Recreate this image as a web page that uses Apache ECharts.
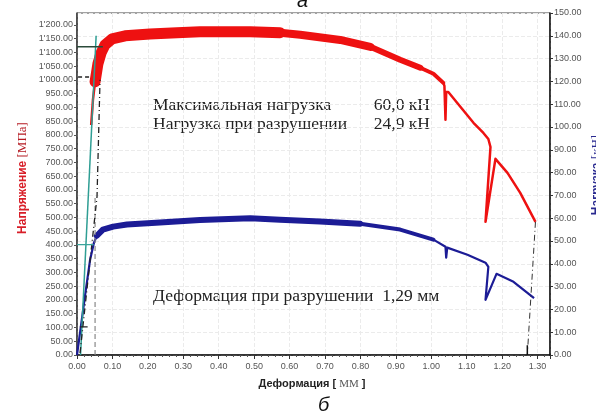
<!DOCTYPE html>
<html><head><meta charset="utf-8">
<script src="https://cdn.jsdelivr.net/npm/echarts@6/dist/echarts.min.js"></script>
<style>html,body{margin:0;padding:0;background:#fff}#c{width:596px;height:414px}</style>
</head><body><div id="c"></div><script>
// Tensile test record: stress (left axis, MPa) and load (right axis, kN) vs elongation (mm)
const stressCurve = [[0.040,836],[0.045,927],[0.051,993],[0.059,1058],[0.068,1098],[0.079,1127],[0.099,1149],[0.136,1160],[0.206,1167],[0.282,1171],[0.347,1175],[0.489,1175],[0.573,1171],[0.63,1164],[0.743,1145],[0.828,1120],[0.912,1073],[0.969,1044],[1.006,1022],[1.034,989],[1.037,978],[1.040,855],[1.042,956],[1.048,956],[1.082,902],[1.119,844],[1.147,807],[1.161,785],[1.167,756],[1.153,484],[1.181,713],[1.215,662],[1.251,589],[1.294,484]];
const loadCurve = [[0,0],[0.0085,9.7],[0.023,26.4],[0.037,41.8],[0.048,49.3],[0.056,52.3],[0.073,55.0],[0.102,56.3],[0.141,57.2],[0.234,58.1],[0.347,59.2],[0.489,60.0],[0.573,59.3],[0.686,58.6],[0.799,57.6],[0.912,55.0],[1.006,50.6],[1.040,47.5],[1.042,42.7],[1.045,47.1],[1.102,44.0],[1.153,40.5],[1.161,38.7],[1.153,24.2],[1.184,35.6],[1.232,32.1],[1.29,24.9]];

// Construction lines (stress axis)
const modulusLine = [[0.010,0],[0.054,1160]];
const yieldLevel = [[0,1120],[0.073,1120]];
const proportionalLevel = [[0.003,1010],[0.035,1010]];
const offsetLine = [[0.0085,7],[0.0565,575],[0.065,1000]];
const offsetMark = [[0.051,0],[0.051,580]];
const unloadLine = [[1.294,484],[1.271,0]];
const breakTick = [[1.271,0],[1.271,35]];
// Construction lines (load axis)
const loadYieldLevel = [[0,48.4],[0.047,48.4]];
const loadLowLevel = [[0.008,12.3],[0.03,12.3]];

const xMax = 1.335, stressMax = 1243, loadMax = 150;

const chart = echarts.init(document.getElementById('c'), null, {renderer:'canvas'});
const labelFont = {fontSize:9, color:'#555', fontFamily:'"Liberation Sans", Arial, sans-serif'};
const fmtStress = v => v > 1200 ? '' : (v >= 1000 ? "1'" + (v-1000).toFixed(2).padStart(6,'0') : v.toFixed(2));
const RED = '#ee1111', BLUE = '#1c1c96';

function refLine(data, axis, color, width, type, z){
  return {type:'line', data, yAxisIndex:axis, symbol:'none', silent:true, z:z||5,
    lineStyle:{color, width, type:type||'solid'}};
}
function band(data, axis, color, width){
  return {type:'line', data, yAxisIndex:axis, symbol:'none', z:3, silent:true,
    lineStyle:{color, width, cap:'round', join:'round'}};
}

chart.setOption({
  animation:false,
  grid:{left:77, right:46, top:13, bottom:59, show:true, borderColor:'#444', borderWidth:1},
  xAxis:{type:'value', min:0, max:xMax, interval:0.1,
    axisLine:{lineStyle:{color:'#111', width:1.5}},
    axisTick:{length:4, lineStyle:{color:'#333'}},
    minorTick:{show:true, splitNumber:5, length:2, lineStyle:{color:'#555'}},
    axisLabel:{...labelFont, margin:7, showMaxLabel:false, formatter:v => v > 1.3001 ? '' : v.toFixed(2)},
    splitLine:{show:true, lineStyle:{color:'#ebebeb', type:'dashed'}}},
  yAxis:[
    {type:'value', min:0, max:stressMax, interval:50, position:'left',
      axisLine:{show:true, lineStyle:{color:'#333', width:1.5}},
      axisTick:{show:true, length:3, lineStyle:{color:'#555'}},
      axisLabel:{...labelFont, margin:4, showMaxLabel:false, formatter:fmtStress},
      splitLine:{show:false}},
    {type:'value', min:0, max:loadMax, interval:10, position:'right',
      axisLine:{show:true, lineStyle:{color:'#111', width:1.5}},
      axisTick:{show:true, length:3, lineStyle:{color:'#333'}},
      axisLabel:{...labelFont, margin:4, formatter:v => v.toFixed(2)},
      splitLine:{show:true, lineStyle:{color:'#ebebeb', type:'dashed'}}}
  ],
  series:[
    {type:'line', data:stressCurve, yAxisIndex:0, symbol:'none', z:3, lineStyle:{color:RED, width:2.5, join:'round'}},
    band(stressCurve.slice(2,13), 0, RED, 11),
    band(stressCurve.slice(12,16), 0, RED, 8),
    band(stressCurve.slice(14,18), 0, RED, 6),
    band(stressCurve.slice(16,20), 0, RED, 4),
    {type:'line', data:loadCurve, yAxisIndex:1, symbol:'none', z:3, lineStyle:{color:BLUE, width:2.2, join:'round'}},
    band(loadCurve.slice(5,15), 1, BLUE, 6),
    band(loadCurve.slice(14,17), 1, BLUE, 4),
    refLine(modulusLine, 0, '#2f9e94', 1.5),
    refLine(yieldLevel, 0, '#2b4a3a', 1.5),
    refLine(proportionalLevel, 0, '#222', 1.5, [4,3]),
    refLine(offsetMark, 0, '#888', 1.2, [5,3]),
    refLine(offsetLine, 0, '#222', 1.3, [6,3,1,3]),
    refLine(unloadLine, 0, '#333', 1, [6,3,1,3]),
    refLine(breakTick, 0, '#111', 1.5),
    refLine(loadYieldLevel, 1, '#3aa39a', 1.3),
    refLine(loadLowLevel, 1, '#222', 1.2)
  ],
  graphic:[
    {type:'text', x:297, y:-9, style:{text:'a', font:'italic 20px "Liberation Sans", Arial, sans-serif', fill:'#111'}},
    {type:'text', x:318, y:395, style:{text:'б', font:'italic 20px "Liberation Sans", Arial, sans-serif', fill:'#111'}},
    {type:'text', x:153, y:105, style:{text:'Максимальная нагрузка', font:'17.5px "Liberation Serif", serif', fill:'#222', verticalAlign:'middle'}},
    {type:'text', x:430, y:105, style:{text:'60,0 кН', font:'17.5px "Liberation Serif", serif', fill:'#222', align:'right', verticalAlign:'middle'}},
    {type:'text', x:153, y:124, style:{text:'Нагрузка при разрушении', font:'17.5px "Liberation Serif", serif', fill:'#222', verticalAlign:'middle'}},
    {type:'text', x:430, y:124, style:{text:'24,9 кН', font:'17.5px "Liberation Serif", serif', fill:'#222', align:'right', verticalAlign:'middle'}},
    {type:'text', x:153, y:296, style:{text:'Деформация при разрушении  1,29 мм', font:'17.5px "Liberation Serif", serif', fill:'#222', verticalAlign:'middle'}},
    {type:'text', x:23, y:178, rotation:Math.PI/2, style:{text:'{a|Напряжение} {b|[МПа]}', align:'center', verticalAlign:'middle',
      rich:{a:{font:'bold 12px "Liberation Sans", Arial, sans-serif', fill:'#d81e28'}, b:{font:'13px "Liberation Serif", serif', fill:'#b51a22'}}}},
    {type:'text', x:597, y:175, rotation:Math.PI/2, style:{text:'{a|Нагрузка} {b|[кН]}', align:'center', verticalAlign:'middle',
      rich:{a:{font:'bold 12px "Liberation Sans", Arial, sans-serif', fill:'#2a2a90'}, b:{font:'13px "Liberation Serif", serif', fill:'#2a2a90'}}}},
    {type:'text', x:312, y:384, style:{text:'{a|Деформация [ }{b|ММ}{a| ]}', align:'center', verticalAlign:'middle',
      rich:{a:{font:'bold 11px "Liberation Sans", Arial, sans-serif', fill:'#222'}, b:{font:'11px "Liberation Serif", serif', fill:'#555'}}}}
  ]
});
</script></body></html>
